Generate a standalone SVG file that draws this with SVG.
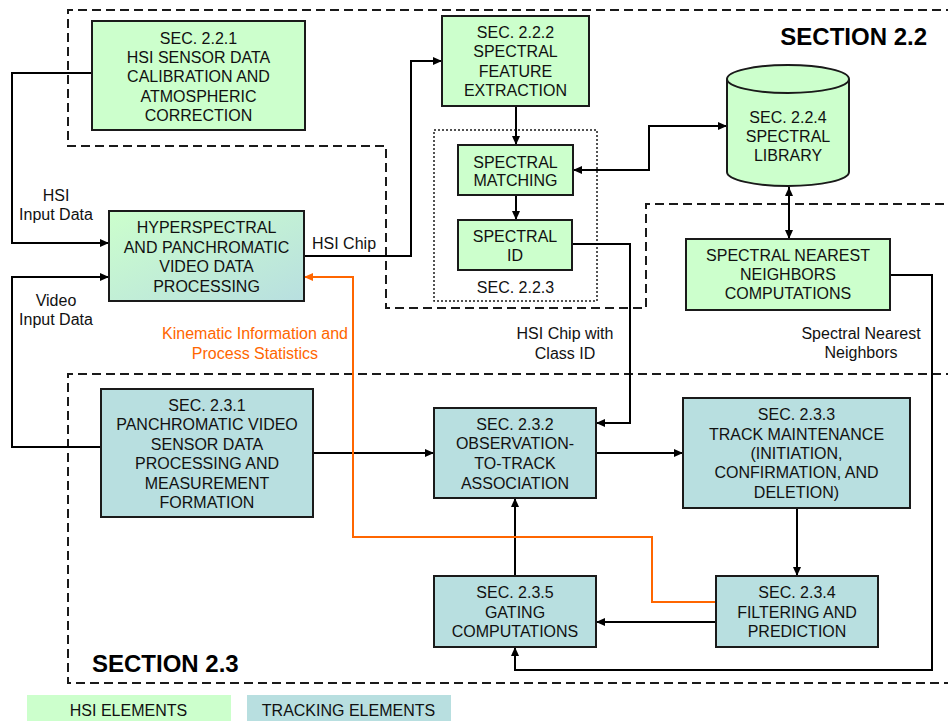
<svg xmlns="http://www.w3.org/2000/svg" width="948" height="721" viewBox="0 0 948 721">
  <defs>
    <linearGradient id="gradMixed" x1="0" y1="0" x2="1" y2="1">
      <stop offset="0" stop-color="#ccffcc"/>
      <stop offset="1" stop-color="#b8dfe0"/>
    </linearGradient>
    <marker id="arrow" markerUnits="userSpaceOnUse" markerWidth="10" markerHeight="9" refX="9" refY="4" orient="auto-start-reverse">
      <path d="M0,0 L9,4 L0,8 z" fill="#000"/>
    </marker>
    <marker id="arrowOrange" markerUnits="userSpaceOnUse" markerWidth="10" markerHeight="9" refX="9" refY="4" orient="auto">
      <path d="M0,0 L9,4 L0,8 z" fill="#ff6600"/>
    </marker>
  </defs>
  <style>
    text { font-family: "Liberation Sans", Arial, sans-serif; font-size: 16px; fill: #111; }
    .c { text-anchor: middle; }
    .title { font-size: 24px; font-weight: bold; fill: #000; }
    .orange { fill: #ff6600; }
    .hsi { fill: #ccffcc; stroke: #1a1a1a; stroke-width: 2; }
    .trk { fill: #b8dfe0; stroke: #1a1a1a; stroke-width: 2; }
    .mix { fill: url(#gradMixed); stroke: #1a1a1a; stroke-width: 2; }
    .section { fill: none; stroke: #1a1a1a; stroke-width: 2; stroke-dasharray: 9 5; }
    .dotted { fill: none; stroke: #1a1a1a; stroke-width: 1.5; stroke-dasharray: 2 2; }
    .link { fill: none; stroke: #000; stroke-width: 2; }
    .link-orange { fill: none; stroke: #ff6600; stroke-width: 2; }
  </style>

  <rect width="948" height="721" fill="#fff"/>

  <!-- section outlines -->
  <g id="section-2-2">
    <path class="section" d="M955 10 H68 V146 H386 V308 H646 V204 H955"/>
    <text class="title" x="927" y="45" text-anchor="end">SECTION 2.2</text>
  </g>
  <g id="section-2-3">
    <path class="section" d="M955 374 H68 V683 H955"/>
    <text class="title" x="92" y="672">SECTION 2.3</text>
  </g>
  <g id="sec-2-2-3">
    <rect class="dotted" x="434" y="130" width="163" height="171"/>
    <text class="c" x="515.5" y="292.5">SEC. 2.2.3</text>
  </g>

  <!-- connectors -->
  <g id="connectors">
    <path class="link" d="M92 73 H12 V243 H109" marker-end="url(#arrow)"/>
    <path class="link" d="M101 447 H12 V277 H109" marker-end="url(#arrow)"/>
    <path class="link" d="M304 256 H411 V61 H442" marker-end="url(#arrow)"/>
    <path class="link" d="M516 106 V145" marker-end="url(#arrow)"/>
    <path class="link" d="M516 195 V220" marker-end="url(#arrow)"/>
    <path class="link" d="M573 170 H649 V126 H727" marker-start="url(#arrow)" marker-end="url(#arrow)"/>
    <path class="link" d="M789 187 V239" marker-start="url(#arrow)" marker-end="url(#arrow)"/>
    <path class="link" d="M572 244 H630 V423 H596" marker-end="url(#arrow)"/>
    <path class="link" d="M890 275 H932 V670 H515 V647" marker-end="url(#arrow)"/>
    <path class="link" d="M313 453 H434" marker-end="url(#arrow)"/>
    <path class="link" d="M596 453 H683" marker-end="url(#arrow)"/>
    <path class="link" d="M797 508 V576" marker-end="url(#arrow)"/>
    <path class="link" d="M716 622 H596" marker-end="url(#arrow)"/>
    <path class="link" d="M515 576 V498" marker-end="url(#arrow)"/>
    <path class="link-orange" d="M716 602 H652 V537 H353 V277 H304" marker-end="url(#arrowOrange)"/>
  </g>

  <!-- connector labels -->
  <g id="labels">
    <text class="c" x="56" y="200.5">HSI</text>
    <text class="c" x="56" y="220">Input Data</text>
    <text class="c" x="56" y="305.5">Video</text>
    <text class="c" x="56" y="324.5">Input Data</text>
    <text x="312" y="249">HSI Chip</text>
    <text class="c orange" x="255" y="338.5">Kinematic Information and</text>
    <text class="c orange" x="255" y="358.5">Process Statistics</text>
    <text class="c" x="565" y="339">HSI Chip with</text>
    <text class="c" x="565" y="358.5">Class ID</text>
    <text class="c" x="861" y="339">Spectral Nearest</text>
    <text class="c" x="861" y="358">Neighbors</text>
  </g>

  <!-- HSI nodes -->
  <g id="sec-2-2-1">
    <rect class="hsi" x="92" y="21" width="213" height="109"/>
    <text class="c" x="198.5" y="44">SEC. 2.2.1</text>
    <text class="c" x="198.5" y="63.2">HSI SENSOR DATA</text>
    <text class="c" x="198.5" y="82.4">CALIBRATION AND</text>
    <text class="c" x="198.5" y="101.6">ATMOSPHERIC</text>
    <text class="c" x="198.5" y="120.8">CORRECTION</text>
  </g>
  <g id="sec-2-2-2">
    <rect class="hsi" x="442" y="16" width="147" height="90"/>
    <text class="c" x="515.5" y="38">SEC. 2.2.2</text>
    <text class="c" x="515.5" y="57.3">SPECTRAL</text>
    <text class="c" x="515.5" y="76.6">FEATURE</text>
    <text class="c" x="515.5" y="95.9">EXTRACTION</text>
  </g>
  <g id="spectral-matching">
    <rect class="hsi" x="458" y="145" width="115" height="50"/>
    <text class="c" x="515.5" y="167.5">SPECTRAL</text>
    <text class="c" x="515.5" y="186.2">MATCHING</text>
  </g>
  <g id="spectral-id">
    <rect class="hsi" x="458" y="220" width="114" height="50"/>
    <text class="c" x="515" y="241.7">SPECTRAL</text>
    <text class="c" x="515" y="260.7">ID</text>
  </g>
  <g id="sec-2-2-4">
    <path class="hsi" d="M727 79 V172 A61 14 0 0 0 849 172 V79"/>
    <ellipse class="hsi" cx="788" cy="79" rx="61" ry="14"/>
    <text class="c" x="788" y="122.5">SEC. 2.2.4</text>
    <text class="c" x="788" y="141.7">SPECTRAL</text>
    <text class="c" x="788" y="160.9">LIBRARY</text>
  </g>
  <g id="spectral-nearest-neighbors">
    <rect class="hsi" x="686" y="239" width="204" height="71"/>
    <text class="c" x="788" y="260.7">SPECTRAL NEAREST</text>
    <text class="c" x="788" y="279.9">NEIGHBORS</text>
    <text class="c" x="788" y="299.1">COMPUTATIONS</text>
  </g>

  <!-- shared node -->
  <g id="hyperspectral-panchromatic">
    <rect class="mix" x="109" y="211" width="195" height="90"/>
    <text class="c" x="206.5" y="233">HYPERSPECTRAL</text>
    <text class="c" x="206.5" y="252.5">AND PANCHROMATIC</text>
    <text class="c" x="206.5" y="272">VIDEO DATA</text>
    <text class="c" x="206.5" y="291.5">PROCESSING</text>
  </g>

  <!-- tracking nodes -->
  <g id="sec-2-3-1">
    <rect class="trk" x="101" y="389" width="212" height="128"/>
    <text class="c" x="207" y="410.7">SEC. 2.3.1</text>
    <text class="c" x="207" y="430">PANCHROMATIC VIDEO</text>
    <text class="c" x="207" y="449.5">SENSOR DATA</text>
    <text class="c" x="207" y="469">PROCESSING AND</text>
    <text class="c" x="207" y="488.7">MEASUREMENT</text>
    <text class="c" x="207" y="508">FORMATION</text>
  </g>
  <g id="sec-2-3-2">
    <rect class="trk" x="434" y="408" width="162" height="90"/>
    <text class="c" x="515" y="429.7">SEC. 2.3.2</text>
    <text class="c" x="515" y="449.3">OBSERVATION-</text>
    <text class="c" x="515" y="469">TO-TRACK</text>
    <text class="c" x="515" y="488.7">ASSOCIATION</text>
  </g>
  <g id="sec-2-3-3">
    <rect class="trk" x="683" y="398" width="227" height="110"/>
    <text class="c" x="796.5" y="420">SEC. 2.3.3</text>
    <text class="c" x="796.5" y="439.5">TRACK MAINTENANCE</text>
    <text class="c" x="796.5" y="459">(INITIATION,</text>
    <text class="c" x="796.5" y="478.4">CONFIRMATION, AND</text>
    <text class="c" x="796.5" y="497.8">DELETION)</text>
  </g>
  <g id="sec-2-3-4">
    <rect class="trk" x="716" y="576" width="162" height="71"/>
    <text class="c" x="797" y="598">SEC. 2.3.4</text>
    <text class="c" x="797" y="617.7">FILTERING AND</text>
    <text class="c" x="797" y="636.7">PREDICTION</text>
  </g>
  <g id="sec-2-3-5">
    <rect class="trk" x="434" y="576" width="162" height="71"/>
    <text class="c" x="515" y="598">SEC. 2.3.5</text>
    <text class="c" x="515" y="617.7">GATING</text>
    <text class="c" x="515" y="636.7">COMPUTATIONS</text>
  </g>

  <!-- legend -->
  <g id="legend">
    <rect x="27" y="695" width="204" height="26" fill="#ccffcc"/>
    <text class="c" x="128.5" y="715.5">HSI ELEMENTS</text>
    <rect x="247" y="695" width="204" height="26" fill="#b8dfe0"/>
    <text class="c" x="348.5" y="715.5">TRACKING ELEMENTS</text>
  </g>
</svg>
